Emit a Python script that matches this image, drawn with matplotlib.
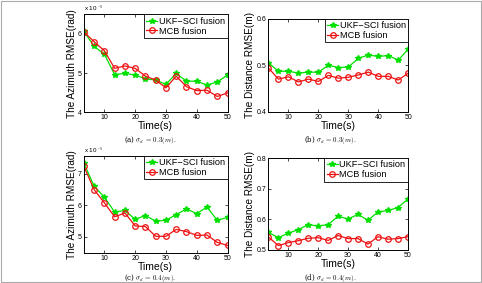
import matplotlib
matplotlib.use('Agg')
import matplotlib.pyplot as plt
from matplotlib.patches import Rectangle
import numpy as np

plt.rcParams['font.family'] = ['Liberation Sans', 'DejaVu Sans']
plt.rcParams['mathtext.fontset'] = 'cm'

# time axis (s)
time_s = [3.33, 6.67, 10, 13.33, 16.67, 20, 23.33, 26.67, 30, 33.33, 36.67, 40, 43.33, 46.67, 50]

# (a) azimuth RMSE, sigma_d = 0.3 (x 1e-5 rad)
az_ukf_03 = [6.07, 5.68, 5.48, 4.96, 4.99, 4.95, 4.85, 4.82, 4.71, 4.99, 4.79, 4.79, 4.69, 4.77, 4.95]
az_mcb_03 = [6.05, 5.80, 5.57, 5.12, 5.18, 5.12, 4.92, 4.82, 4.62, 4.92, 4.65, 4.55, 4.56, 4.40, 4.49]

# (b) distance RMSE, sigma_d = 0.3 (m)
dist_ukf_03 = [0.505, 0.487, 0.487, 0.483, 0.485, 0.485, 0.500, 0.495, 0.496, 0.515, 0.522, 0.519, 0.521, 0.511, 0.535]
dist_mcb_03 = [0.494, 0.470, 0.475, 0.464, 0.470, 0.465, 0.478, 0.472, 0.474, 0.479, 0.485, 0.476, 0.476, 0.468, 0.483]

# (c) azimuth RMSE, sigma_d = 0.4 (x 1e-5 rad)
az_ukf_04 = [7.34, 6.61, 6.26, 5.79, 5.84, 5.56, 5.68, 5.50, 5.53, 5.71, 5.89, 5.74, 5.95, 5.53, 5.62]
az_mcb_04 = [7.24, 6.50, 6.08, 5.64, 5.76, 5.35, 5.33, 5.02, 5.02, 5.24, 5.17, 5.05, 5.06, 4.83, 4.73]

# (d) distance RMSE, sigma_d = 0.4 (m)
dist_ukf_04 = [0.557, 0.540, 0.555, 0.566, 0.583, 0.578, 0.583, 0.610, 0.601, 0.616, 0.597, 0.624, 0.629, 0.638, 0.666]
dist_mcb_04 = [0.542, 0.514, 0.524, 0.530, 0.538, 0.540, 0.531, 0.547, 0.537, 0.537, 0.519, 0.543, 0.535, 0.537, 0.543]

GREEN = '#00e000'
RED = '#ee1111'

fig = plt.figure(figsize=(4.82, 2.83), dpi=100)

# light frame round the whole figure
fig.patches.append(Rectangle((0.003, 0.004), 0.994, 0.992, transform=fig.transFigure,
                             fill=False, edgecolor='#aaaaaa', linewidth=0.8))

panels = [
    # rect, ukf, mcb, ylim, yticks, ylabel, caption, caption pos, scaled
    ([0.174, 0.604, 0.298, 0.345], az_ukf_03, az_mcb_03, (4, 6.5), [4, 5, 6],
     'The Azimuth RMSE(rad)', r'(a) $\sigma_d\,=\,0.3(m).$', (0.311, 0.505), True),
    ([0.557, 0.606, 0.290, 0.327], dist_ukf_03, dist_mcb_03, (0.4, 0.6), [0.4, 0.5, 0.6],
     'The Distance RMSE(m)', r'(b) $\sigma_d\,=\,0.3(m).$', (0.685, 0.505), False),
    ([0.174, 0.107, 0.298, 0.342], az_ukf_04, az_mcb_04, (4.5, 7.57), [5, 6, 7],
     'The Azimuth RMSE(rad)', r'(c) $\sigma_d\,=\,0.4(m).$', (0.311, 0.016), True),
    ([0.557, 0.117, 0.289, 0.324], dist_ukf_04, dist_mcb_04, (0.5, 0.8), [0.5, 0.6, 0.7, 0.8],
     'The Distance RMSE(m)', r'(d) $\sigma_d\,=\,0.4(m).$', (0.685, 0.016), False),
]

for rect, ukf, mcb, ylim, yticks, ylabel, caption, cpos, scaled in panels:
    ax = fig.add_axes(rect)
    ax.plot(time_s, ukf, '-*', color=GREEN, lw=0.9, markersize=3.8, label='UKF\u2212SCI fusion')
    ax.plot(time_s, mcb, '-o', color=RED, lw=0.9, markersize=4, markerfacecolor='none',
            markeredgewidth=0.9, label='MCB fusion')
    ax.set_xlim(time_s[0], 50)
    ax.set_ylim(*ylim)
    ax.set_xticks([10, 20, 30, 40, 50])
    ax.set_yticks(yticks)
    ax.set_yticklabels([f'{v:g}' for v in yticks])
    ax.tick_params(direction='in', top=True, right=True, length=2, width=0.5,
                   labelsize=5, pad=1.5)
    for s in ax.spines.values():
        s.set_linewidth(0.7)
    ax.set_xlabel('Time(s)', fontsize=7.5, labelpad=0)
    ax.set_ylabel(ylabel, fontsize=7.2, labelpad=1)
    leg = ax.legend(loc='upper right', fontsize=6.6, borderaxespad=0, handlelength=1.2,
                    handletextpad=0.2, borderpad=0.25, labelspacing=0.1, fancybox=False,
                    framealpha=1)
    leg.get_frame().set_edgecolor('black')
    leg.get_frame().set_linewidth(0.6)
    if scaled:
        ax.text(0.0, 1.01, r'x 10$^{-5}$', transform=ax.transAxes, fontsize=4.5,
                ha='left', va='bottom')
    fig.text(cpos[0], cpos[1], caption, fontsize=5, ha='center', va='center',
             family='DejaVu Serif')

fig.savefig('out.png', dpi=100)
